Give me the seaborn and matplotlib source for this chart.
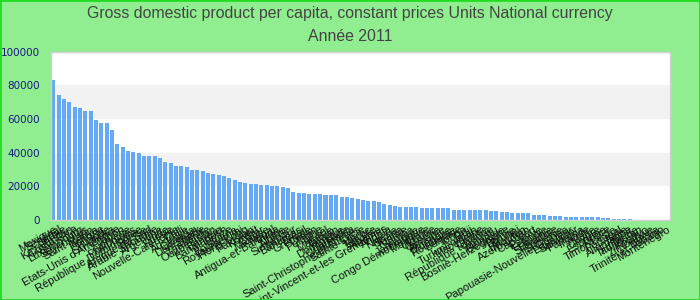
import matplotlib
matplotlib.use("Agg")
import matplotlib.pyplot as plt
import seaborn as sns
import pandas as pd
from matplotlib.patches import Rectangle

countries = [
    "Mexique", "Sénégal", "Serbie", "Kazakhstan", "Costa Rica", "Luxembourg",
    "Seychelles", "Saint-Marin", "Kenya", "Hongrie", "Islande", "Sri Lanka",
    "Etats-Unis d'Amérique", "Japon", "Norvège", "Philippines",
    "République Dominicaine", "Suisse", "Afrique du Sud", "Arabie Saoudite",
    "Argentine", "Inde", "Russie", "Nouvelle-Calédonie", "Chili", "Australie",
    "Canada", "Danemark", "Suède", "Thaïlande", "Ouzbékistan", "Bahreïn",
    "Bangladesh", "Belize", "Botswana", "Royaume-Uni", "Hong Kong", "Pakistan",
    "Koweït", "Qatar", "Maurice", "Népal", "Antigua-et-Barbuda", "Chine",
    "Algérie", "Singapour", "Bahamas", "Brésil", "Grenade", "Oman", "Pologne",
    "Israël", "Malaisie", "Taïwan", "Dominique", "Barbade", "Guatemala",
    "Saint-Christophe-et-Niévès", "Sainte-Lucie", "Maroc", "Egypte", "Albanie",
    "Saint-Vincent-et-les Grenadines", "Angola", "Nigeria", "Ghana", "Tunisie",
    "Samoa", "Jamaïque", "Congo Démocratique", "Moldavie", "Ukraine", "Géorgie",
    "Arménie", "Mongolie", "Roumanie", "Bulgarie", "Tonga", "Fidji",
    "Turkménistan", "Macédoine", "Croatie", "République tchèque", "Vanuatu",
    "Belgique", "Bosnie-Herzégovine", "Bolivie", "Brunei", "Bhoutan",
    "Azerbaïdjan", "Cap-Vert", "Estonie", "Lettonie", "Lituanie", "Slovaquie",
    "Slovénie", "Papouasie-Nouvelle-Guinée", "Equateur", "Salvador", "Panama",
    "Irlande", "Malte", "Chypre", "Espagne", "Grèce", "Timor-Leste", "Portugal",
    "Italie", "Allemagne", "Finlande", "Tadjikistan", "Kosovo", "Zimbabwe",
    "Libéria", "Trinité-et-Tobago", "Monténégro",
]

values = [
    83200, 74300, 71900, 70100, 67200, 66600, 64800, 64700, 59400, 57700,
    57600, 53500, 45200, 43400, 41000, 40400, 39800, 38100, 38000, 37900,
    36800, 34500, 33900, 32100, 32000, 31500, 29700, 29600, 29100, 27900,
    27300, 26700, 26100, 25000, 23800, 22600, 22000, 21400, 21300, 20800,
    20700, 20200, 20100, 19600, 19000, 16600, 16000, 15900, 15500, 15450,
    15400, 14900, 14850, 14800, 13700, 13650, 13100, 12500, 11900, 11300,
    11250, 10700, 9500, 8900, 8300, 7700, 7650, 7600, 7550, 7100,
    7080, 7060, 7040, 7020, 7000, 5900, 5880, 5860, 5840, 5820,
    5800, 5780, 5350, 5300, 4750, 4700, 4160, 4140, 4120, 4100,
    2970, 2950, 2930, 2380, 2360, 2340, 1780, 1770, 1760, 1750,
    1740, 1730, 1720, 1190, 1170, 600, 590, 580, 570, 0,
    0, 0, 0, 0, 0, 0,
]

yticks = [0, 20000, 40000, 60000, 80000, 100000]
title_line1 = "Gross domestic product per capita, constant prices Units National currency"
title_line2 = "Année 2011"

df = pd.DataFrame({"country": countries, "value": values})

sns.set_theme(style="white")
plt.rcParams["font.family"] = ["Liberation Sans", "DejaVu Sans"]

fig = plt.figure(figsize=(7, 3), dpi=100, facecolor="#90ee90")
ax = fig.add_axes([0.0724, 0.2667, 0.8843, 0.561])

# alternating bands
for i, (lo, hi) in enumerate(zip(yticks[:-1], yticks[1:])):
    ax.axhspan(lo, hi, color="white" if i % 2 == 0 else "#f2f2f2", zorder=0, lw=0)

sns.barplot(data=df, x="country", y="value", color="#64a9f1", saturation=1,
            width=0.75, linewidth=0, edgecolor="none", ax=ax, zorder=2)

ax.set_xlim(-0.5, len(countries) - 0.5)
ax.set_ylim(0, 100000)
ax.set_yticks(yticks)
ax.set_yticklabels([str(t) for t in yticks], family="DejaVu Sans",
                   fontsize=7.5, color="#1a1a80")
ax.tick_params(axis="y", length=0, pad=8)
ax.tick_params(axis="x", length=0, pad=3)
ax.set_xticks(range(len(countries)))
ax.set_xticklabels(countries, rotation=30, ha="right", rotation_mode="anchor",
                   fontsize=8, color="#111111")
ax.set_xlabel("")
ax.set_ylabel("")
for s in ax.spines.values():
    s.set_color("#d0d0d0")
    s.set_linewidth(1)
    s.set_visible(True)

fig.text(0.5, 0.955, title_line1, ha="center", va="center", fontsize=11.4, color="#444444")
fig.text(0.5, 0.878, title_line2, ha="center", va="center", fontsize=11.4, color="#444444")

fig.patches.append(Rectangle((0, 0), 1, 1, transform=fig.transFigure, fill=False,
                             edgecolor="#22dd22", linewidth=2, zorder=10))

fig.savefig("out.png", dpi=100, facecolor=fig.get_facecolor())
